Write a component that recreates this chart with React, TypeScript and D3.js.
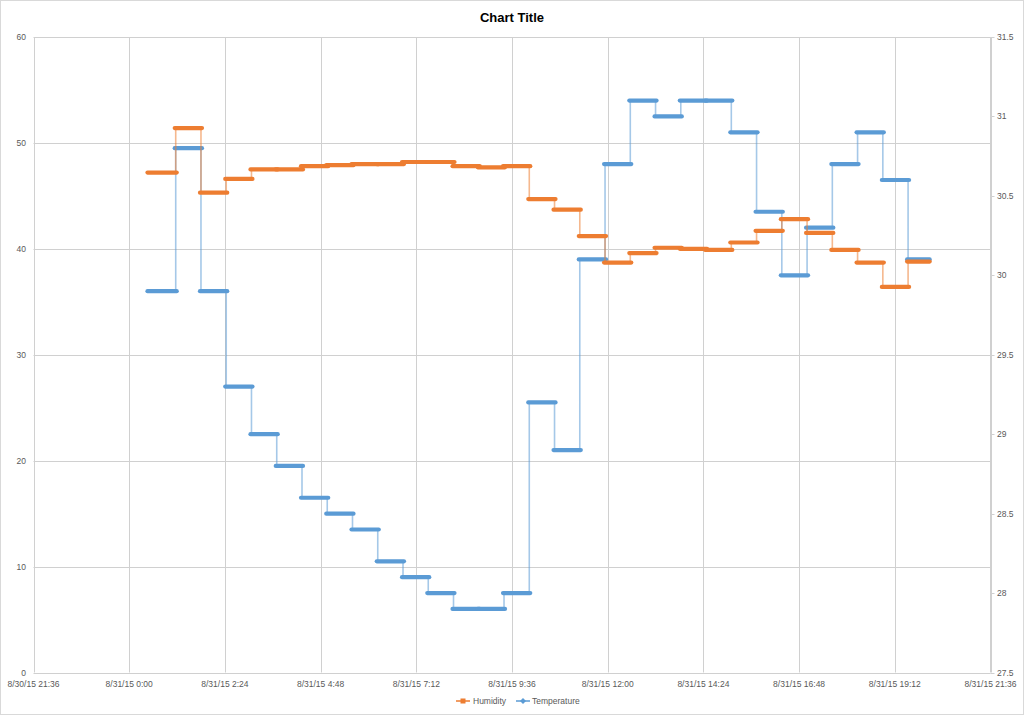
import React from "react";
import * as d3 from "d3";

const segmentStarts = [
  "8/31/15 0:29", "8/31/15 1:10", "8/31/15 1:48", "8/31/15 2:26", "8/31/15 3:04",
  "8/31/15 3:42", "8/31/15 4:20", "8/31/15 4:58", "8/31/15 5:36", "8/31/15 6:14",
  "8/31/15 6:52", "8/31/15 7:30", "8/31/15 8:08", "8/31/15 8:46", "8/31/15 9:24",
  "8/31/15 10:02", "8/31/15 10:40", "8/31/15 11:18", "8/31/15 11:56", "8/31/15 12:34",
  "8/31/15 13:12", "8/31/15 13:50", "8/31/15 14:28", "8/31/15 15:06", "8/31/15 15:44",
  "8/31/15 16:22", "8/31/15 17:00", "8/31/15 17:38", "8/31/15 18:16", "8/31/15 18:54",
  "8/31/15 19:32",
];
const lastReadingEnd = "8/31/15 20:03";

const humidity = [
  47.2, 51.4, 45.3, 46.6, 47.5, 47.5, 47.8, 47.9, 48.0, 48.0, 48.2, 48.2, 47.8, 47.7, 47.8,
  44.7, 43.7, 41.2, 38.7, 39.6, 40.1, 40.0, 39.9, 40.6, 41.7, 42.8, 41.5, 39.9, 38.7, 36.4, 38.8,
];
const temperature = [
  29.9, 30.8, 29.9, 29.3, 29.0, 28.8, 28.6, 28.5, 28.4, 28.2, 28.1, 28.0, 27.9, 27.9, 28.0,
  29.2, 28.9, 30.1, 30.7, 31.1, 31.0, 31.1, 31.1, 30.9, 30.4, 30.0, 30.3, 30.7, 30.9, 30.6, 30.1,
];

const xTickLabels = [
  "8/30/15 21:36", "8/31/15 0:00", "8/31/15 2:24", "8/31/15 4:48", "8/31/15 7:12",
  "8/31/15 9:36", "8/31/15 12:00", "8/31/15 14:24", "8/31/15 16:48", "8/31/15 19:12",
  "8/31/15 21:36",
];
const leftTicks = [0, 10, 20, 30, 40, 50, 60];
const rightTicks = [27.5, 28, 28.5, 29, 29.5, 30, 30.5, 31, 31.5];

const seriesNames = ["Humidity", "Temperature"];
const seriesColors = ["#ED7D31", "#5B9BD5"];

const parseT = d3.timeParse("%m/%d/%y %H:%M");

const W = 1024;
const H = 715;
const L = 33.5;
const R = 990.5;
const T = 37;
const B = 672.5;

const FONT = "'Liberation Sans', Arial, sans-serif";
const TXT = "#595959";
const GRID = "#d0d0d0";

export default function App() {
  const x = d3
    .scaleTime()
    .domain([parseT(xTickLabels[0])!, parseT(xTickLabels[xTickLabels.length - 1])!])
    .range([L, R]);
  const yL = d3.scaleLinear().domain([0, 60]).range([B, T]);
  const yR = d3.scaleLinear().domain([27.5, 31.5]).range([B, T]);

  const starts = segmentStarts.map((s) => parseT(s)!);
  const ends = [...starts.slice(1), parseT(lastReadingEnd)!];

  const series = [
    { name: seriesNames[1], values: temperature, y: yR, color: seriesColors[1] },
    { name: seriesNames[0], values: humidity, y: yL, color: seriesColors[0] },
  ];

  const renderSeries = (s: (typeof series)[number]) => {
    const pts: [Date, number][] = starts.map((d, i) => [d, s.values[i]]);
    pts.push([ends[ends.length - 1], s.values[s.values.length - 1]]);
    const thin = d3
      .line<[Date, number]>()
      .x((d) => x(d[0]))
      .y((d) => s.y(d[1]))
      .curve(d3.curveStepAfter)(pts);
    return (
      <g key={s.name}>
        <path d={thin ?? ""} fill="none" stroke={s.color} strokeWidth={1.6} strokeOpacity={0.55} />
        {s.values.map((v, i) => (
          <line
            key={i}
            x1={x(starts[i]) - 1}
            x2={x(ends[i]) + 1}
            y1={s.y(v)}
            y2={s.y(v)}
            stroke={s.color}
            strokeWidth={4.2}
            strokeLinecap="round"
          />
        ))}
      </g>
    );
  };

  const legendY = 701;

  return (
    <div style={{ width: W, height: H }}>
      <style>{"body{margin:0;}"}</style>
      <svg width={W} height={H} style={{ display: "block", background: "#fff" }} fontFamily={FONT}>
        <rect x={0.5} y={0.5} width={W - 1} height={H - 1} fill="#fff" stroke="#d9d9d9" />
        <text x={W / 2} y={22} textAnchor="middle" fontSize={13} fontWeight="bold" fill="#000">
          Chart Title
        </text>

        {leftTicks.map((t) => (
          <line key={"h" + t} x1={L} x2={R} y1={Math.round(yL(t)) + 0.5} y2={Math.round(yL(t)) + 0.5} stroke={GRID} />
        ))}
        {xTickLabels.map((lab) => {
          const xx = Math.round(x(parseT(lab)!)) + 0.5;
          return <line key={"v" + lab} x1={xx} x2={xx} y1={T} y2={B} stroke={GRID} />;
        })}

        <line x1={R} x2={R} y1={T} y2={B} stroke={GRID} />
        {rightTicks.map((t) => (
          <line key={"rt" + t} x1={R} x2={R + 4} y1={Math.round(yR(t)) + 0.5} y2={Math.round(yR(t)) + 0.5} stroke={GRID} />
        ))}

        {leftTicks.map((t) => (
          <text key={"ll" + t} x={26} y={yL(t) + 3} textAnchor="end" fontSize={8.5} fill={TXT}>
            {t}
          </text>
        ))}
        {rightTicks.map((t) => (
          <text key={"rl" + t} x={997} y={yR(t) + 3} textAnchor="start" fontSize={8.5} fill={TXT}>
            {t}
          </text>
        ))}
        {xTickLabels.map((lab) => (
          <text key={"xl" + lab} x={x(parseT(lab)!)} y={687} textAnchor="middle" fontSize={8.5} fill={TXT}>
            {lab}
          </text>
        ))}

        {series.map(renderSeries)}

        <g>
          <line x1={456} x2={470} y1={legendY} y2={legendY} stroke={seriesColors[0]} strokeWidth={1.5} />
          <rect x={460.5} y={legendY - 2.5} width={5} height={5} fill={seriesColors[0]} />
          <text x={473} y={legendY + 3} fontSize={8.5} fill={TXT}>
            {seriesNames[0]}
          </text>
          <line x1={516} x2={530} y1={legendY} y2={legendY} stroke={seriesColors[1]} strokeWidth={1.5} />
          <path d={`M523,${legendY - 3}L526,${legendY}L523,${legendY + 3}L520,${legendY}Z`} fill={seriesColors[1]} />
          <text x={532} y={legendY + 3} fontSize={8.5} fill={TXT}>
            {seriesNames[1]}
          </text>
        </g>
      </svg>
    </div>
  );
}
